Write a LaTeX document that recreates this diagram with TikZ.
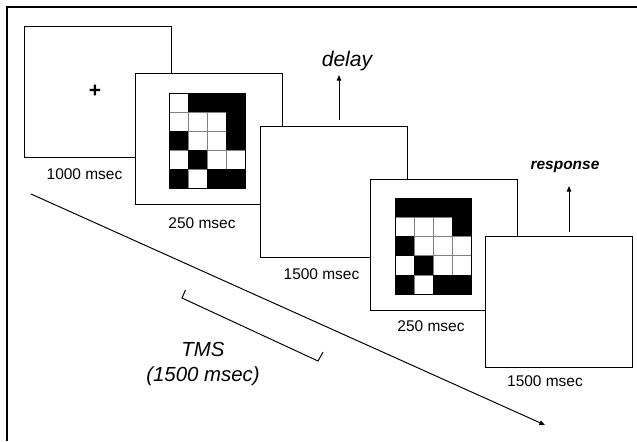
\documentclass[tikz,border=0pt]{standalone}
\usepackage{fontspec}
\setmainfont{Liberation Sans}
\usetikzlibrary{arrows.meta}

\begin{document}
\begin{tikzpicture}[x=0.025cm,y=-0.025cm]
\useasboundingbox (0,0) rectangle (637,441);
\draw[line width=1.8pt] (7,441) -- (7,7) -- (637,7);

\begin{scope}[every node/.style={rectangle,draw,fill=white,line width=0.6pt,
              minimum width=3.675cm,minimum height=3.275cm,inner sep=0pt}]
    \node (A) at (97.5,91.5) {};
    \node (B) at (208.5,138.5) {};
    \node (C) at (333.5,192) {};
    \node (D) at (444,244.5) {};
    \node (E) at (558.5,301.5) {};
\end{scope}

% fixation cross
\node[font=\fontsize{15}{15}\selectfont\bfseries] (plus) at (95,91) {+};

% stimulus grids
\begin{scope}[shift={(169,93)}]
    \foreach \i in {1,2,3} \draw[gray,line width=0.4pt] (19*\i,0) -- (19*\i,95);
    \foreach \j in {1,2,3,4} \draw[gray,line width=0.4pt] (0,19*\j) -- (76,19*\j);
    \foreach \c/\r in {1/0,2/0,3/0,3/1,0/2,3/2,1/3,0/4,2/4,3/4}
        \fill (19*\c,19*\r) rectangle ++(19,19);
    \draw[line width=0.6pt] (0,0) rectangle (76,95);
\end{scope}
\begin{scope}[shift={(395,198)}]
    \foreach \i in {1,2,3} \draw[gray,line width=0.4pt] (19*\i,0) -- (19*\i,96);
    \foreach \j in {1,2,3,4} \draw[gray,line width=0.4pt] (0,19.2*\j) -- (76,19.2*\j);
    \foreach \c/\r in {0/0,1/0,2/0,3/0,3/1,0/2,1/3,0/4,2/4,3/4}
        \fill (19*\c,19.2*\r) rectangle ++(19,19.2);
    \draw[line width=0.6pt] (0,0) rectangle (76,96);
\end{scope}

\begin{scope}[every node/.style={font=\fontsize{11}{13}\selectfont}]
    \node (tA) at (84.5,174) {1000 msec};
    \node (tB) at (202,223) {250 msec};
    \node (tC) at (321.5,274) {1500 msec};
    \node (tD) at (431,326) {250 msec};
    \node (tE) at (545,381) {1500 msec};
\end{scope}

\node[font=\fontsize{15}{15}\selectfont\itshape] (delay) at (347,61) {delay};
\node[font=\fontsize{11}{13}\selectfont\bfseries\itshape] (resp) at (565,167) {response};
\node[font=\fontsize{14.5}{17.5}\selectfont\itshape,align=center] (tms) at (203,364) {TMS\\(1500 msec)};

\coordinate (d0) at (339,120);
\coordinate (d1) at (339,75);
\coordinate (r0) at (569,232);
\coordinate (r1) at (569,186);
\coordinate (t0) at (31,194);
\coordinate (t1) at (545,425);

\begin{scope}[>={Triangle[length=4pt,width=3.2pt]},line width=0.7pt]
    \path [->] (d0) edge (d1);
    \path [->] (r0) edge (r1);
    \path [->] (t0) edge (t1);
\end{scope}

% TMS bracket
\draw[line width=0.7pt] (185.5,290) -- (182,298) -- (318,361) -- (323,352);
\end{tikzpicture}
\end{document}
